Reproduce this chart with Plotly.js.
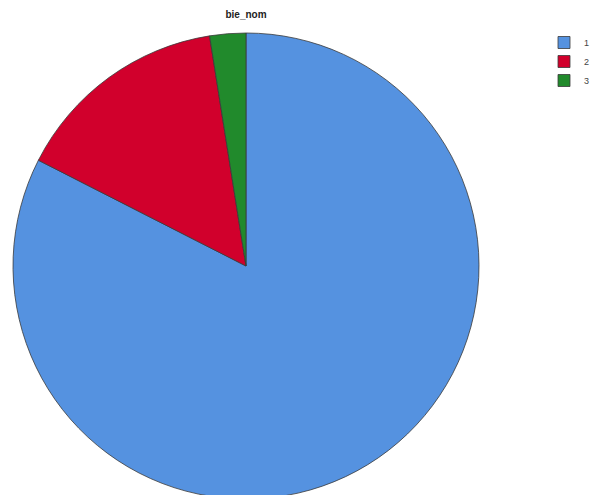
<!DOCTYPE html>
<html>
<head>
<meta charset="utf-8">
<script src="https://cdn.plot.ly/plotly-3.0.1.min.js"></script>
<style>
html,body{margin:0;padding:0;overflow:hidden;background:#fff;}
#chart{width:593px;height:510px;}
</style>
</head>
<body>
<div id="chart"></div>
<script>
var categories = ["1", "2", "3"];
var counts = [33, 6, 1];
var colors = ["#5592e0", "#d1002c", "#218a2c"];
var chartTitle = "bie_nom";

var trace = {
  type: "pie",
  labels: categories,
  values: counts,
  sort: false,
  direction: "clockwise",
  rotation: 0,
  textinfo: "none",
  hoverinfo: "label+value+percent",
  marker: { colors: colors, line: { color: "#3a3a3a", width: 0.8 } }
};

var layout = {
  width: 593,
  height: 510,
  margin: { l: 13, r: 114, t: 33, b: 11 },
  paper_bgcolor: "#ffffff",
  title: {
    text: "<b>" + chartTitle + "</b>",
    font: { family: "Liberation Sans, Arial, sans-serif", size: 10, color: "#222" },
    x: 0.5, xref: "paper", xanchor: "center",
    y: 1 - 14/510, yref: "container", yanchor: "middle"
  },
  showlegend: true,
  legend: {
    xref: "container", yref: "container",
    x: 544/593, y: 1 - 28/510, xanchor: "left", yanchor: "top",
    font: { family: "Liberation Sans, Arial, sans-serif", size: 9, color: "#444" },
    tracegroupgap: 0,
    itemwidth: 30,
    bgcolor: "rgba(0,0,0,0)"
  }
};

Plotly.newPlot("chart", [trace], layout, { displayModeBar: false, staticPlot: true });
</script>
</body>
</html>
